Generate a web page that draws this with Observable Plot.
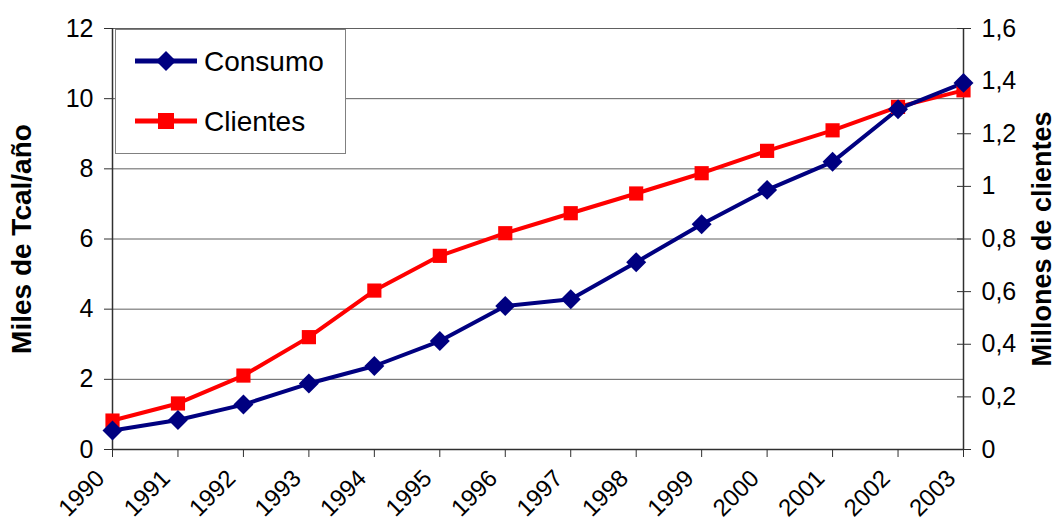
<!DOCTYPE html>
<html>
<head>
<meta charset="utf-8">
<script src="https://cdn.jsdelivr.net/npm/d3@7"></script>
<script src="https://cdn.jsdelivr.net/npm/@observablehq/plot@0.6"></script>
<style>
  html, body { margin: 0; padding: 0; background: white; }
  #wrap { position: relative; width: 1056px; height: 524px; font-family: Arial, "Liberation Sans", sans-serif; }
  #legend { position: absolute; left: 115px; top: 29px; width: 229px; height: 123px; background: white; border: 1px solid #808080; }
  #legend svg { position: absolute; left: 0; top: 0; }
</style>
</head>
<body>
<div id="wrap"></div>
<script>
const years = [1990, 1991, 1992, 1993, 1994, 1995, 1996, 1997, 1998, 1999, 2000, 2001, 2002, 2003];
const consumo = [0.54, 0.84, 1.28, 1.88, 2.38, 3.09, 4.09, 4.28, 5.34, 6.42, 7.40, 8.20, 9.70, 10.45];
const clientes = [0.110, 0.175, 0.281, 0.427, 0.604, 0.736, 0.822, 0.898, 0.973, 1.050, 1.135, 1.213, 1.302, 1.365];
const leftTicks = [0, 2, 4, 6, 8, 10, 12];
const rightTicks = [0, 0.2, 0.4, 0.6, 0.8, 1.0, 1.2, 1.4, 1.6];
const rightTickLabels = ["0", "0,2", "0,4", "0,6", "0,8", "1", "1,2", "1,4", "1,6"];
const seriesNames = ["Consumo", "Clientes"];
const seriesColors = ["#000080", "#FF0000"];
const leftTitle = "Miles de Tcal/año";
const rightTitle = "Millones de clientes";

const k = 12 / 1.6; // right axis -> left axis scale factor
const rows = years.map((yr, i) => ({year: yr, consumo: consumo[i], clientes: clientes[i] * k}));

const chart = Plot.plot({
  width: 1056,
  height: 524,
  marginLeft: 112,
  marginRight: 93,
  marginTop: 28,
  marginBottom: 75,
  style: {fontFamily: "Arial, 'Liberation Sans', sans-serif", fontSize: "24px", background: "white", color: "black", overflow: "visible"},
  x: {type: "linear", domain: [1990, 2003]},
  y: {domain: [0, 12]},
  marks: [
    Plot.gridY(leftTicks, {stroke: "#606060", strokeOpacity: 1, strokeWidth: 1}),
    Plot.ruleX([1990, 2003], {stroke: "#303030", strokeWidth: 1.5}),
    Plot.ruleY([0], {stroke: "#303030", strokeWidth: 1.5}),
    Plot.axisY(leftTicks, {anchor: "left", tickSize: 8, tickPadding: 11, fontSize: 25, label: null, stroke: "#303030"}),
    Plot.axisY(rightTicks.map(v => v * k), {anchor: "right", tickSize: 7, tickPadding: 11, fontSize: 25, label: null,
      stroke: "#303030", tickFormat: d => rightTickLabels[Math.round(d / k * 5)]}),
    Plot.axisY(rightTicks.map(v => v * k), {anchor: "right", tickSize: 7, dx: -7, label: null,
      stroke: "#303030", tickFormat: () => ""}),
    Plot.axisX(years, {anchor: "bottom", tickSize: 8, label: null, stroke: "#303030", tickFormat: () => ""}),
    Plot.axisX(years, {anchor: "bottom", tickSize: 0, tickPadding: 4, fontSize: 24, tickRotate: -45, label: null,
      dx: -12, dy: 21, tickFormat: d => String(d)}),
    Plot.text([leftTitle], {frameAnchor: "left", rotate: -90, dx: -90, textAnchor: "middle", fontWeight: "bold", fontSize: 28}),
    Plot.text([rightTitle], {frameAnchor: "right", rotate: -90, dx: 79, textAnchor: "middle", fontWeight: "bold", fontSize: 27}),
    Plot.line(rows, {x: "year", y: "clientes", stroke: seriesColors[1], strokeWidth: 4}),
    Plot.line(rows, {x: "year", y: "consumo", stroke: seriesColors[0], strokeWidth: 4}),
    Plot.dot(rows, {x: "year", y: "clientes", symbol: "square", r: 8, fill: seriesColors[1], stroke: "none"}),
    Plot.dot(rows, {x: "year", y: "consumo", symbol: "diamond2", r: 9, fill: seriesColors[0], stroke: "none"})
  ]
});

const wrap = document.getElementById("wrap");
wrap.appendChild(chart);

// Legend (inside the plot area, top-left)
const legend = document.createElement("div");
legend.id = "legend";
const ns = "http://www.w3.org/2000/svg";
const lsvg = document.createElementNS(ns, "svg");
lsvg.setAttribute("width", 229);
lsvg.setAttribute("height", 123);
const entryY = [31, 91];
seriesNames.forEach((name, i) => {
  const y = entryY[i];
  const line = document.createElementNS(ns, "line");
  line.setAttribute("x1", 19); line.setAttribute("x2", 81);
  line.setAttribute("y1", y); line.setAttribute("y2", y);
  line.setAttribute("stroke", seriesColors[i]); line.setAttribute("stroke-width", 5);
  lsvg.appendChild(line);
  let sym;
  if (i === 0) {
    sym = document.createElementNS(ns, "path");
    sym.setAttribute("d", `M50,${y-10}L60,${y}L50,${y+10}L40,${y}Z`);
  } else {
    sym = document.createElementNS(ns, "rect");
    sym.setAttribute("x", 42); sym.setAttribute("y", y - 8);
    sym.setAttribute("width", 16); sym.setAttribute("height", 16);
  }
  sym.setAttribute("fill", seriesColors[i]);
  lsvg.appendChild(sym);
  const t = document.createElementNS(ns, "text");
  t.setAttribute("x", 88); t.setAttribute("y", y);
  t.setAttribute("dy", "0.35em");
  t.setAttribute("font-size", 28);
  t.setAttribute("font-family", "Arial, 'Liberation Sans', sans-serif");
  t.textContent = name;
  lsvg.appendChild(t);
});
legend.appendChild(lsvg);
wrap.appendChild(legend);
</script>
</body>
</html>
